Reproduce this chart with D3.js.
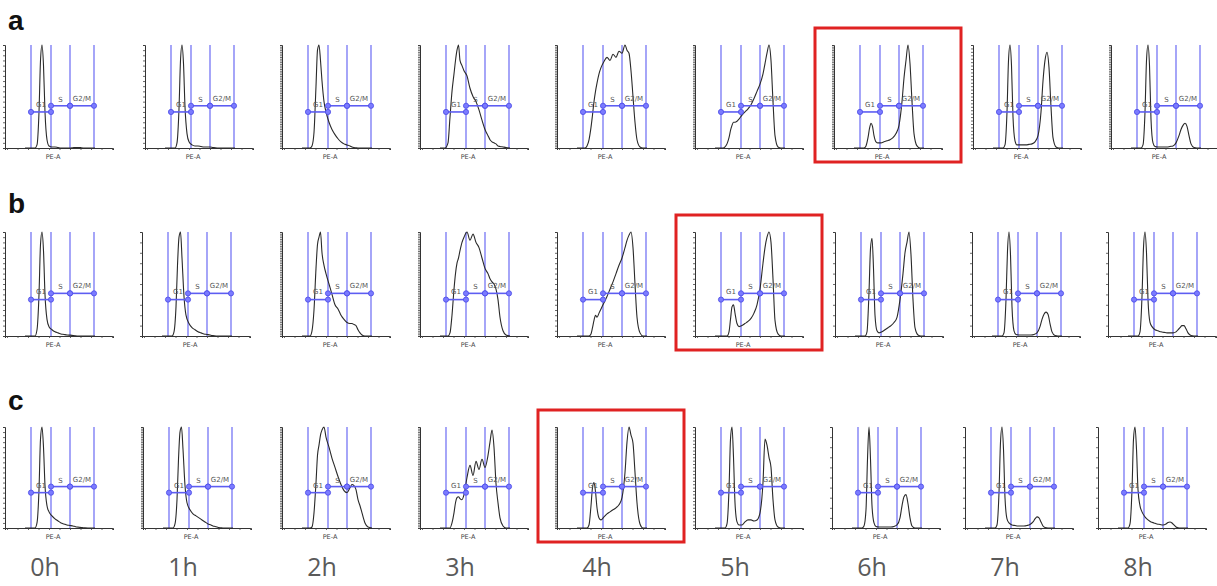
<!DOCTYPE html>
<html>
<head>
<meta charset="utf-8">
<script src="https://cdnjs.cloudflare.com/ajax/libs/d3/7.8.5/d3.min.js"></script>
<style>
  body { margin: 0; background: #fff; }
  svg { display: block; }
</style>
</head>
<body>
<div id="chart"></div>
<script>
// PE-A channel grid shared by every histogram
var peA = [200, 250, 280, 300, 320, 340, 355, 370, 385, 400, 420, 440, 470, 500, 530,
           560, 590, 620, 650, 680, 700, 720, 740, 760, 780, 800, 830, 860, 900];

// counts (% of panel max), one list per time point
var rowA = [
  [0,0,0,0,3,35,85,100,80,35,8,2,1,1,0.5,0,0,0,0,0.3,0.5,0.5,0.5,0.3,0,0,0,0,0],
  [0,0,0,0,5,38,85,100,82,40,14,6,3,2,2,1.5,1,1,1,0.5,0.3,0,0,0,0,0,0,0,0],
  [0,0,0,2,15,60,95,100,85,65,45,35,25,18,13,9,6,4,3,2,1,0.5,0.2,0,0,0,0,0,0],
  [0,0,5,30,55,72,85,95,100,85,80,75,70,58,50,45,37,27,18,12,8,6,5,4,2,1.5,1,0.5,0],
  [0,0,0,2,8,20,32,45,55,63,72,78,84,88,85,91,88,94,92,100,95,92,75,50,25,8,1,0,0],
  [0,0,0,1,4,10,17,22,25,25,26,28,32,35,38,42,48,55,62,72,82,92,100,85,45,12,1,0,0],
  [0,0,0,0,2,10,19,24,21,12,6,5,5,6,7,8,10,14,22,45,68,85,100,82,45,14,2,0,0],
  [0,0,0,0,3,35,85,100,80,30,7,3,3,3,3,3.5,4,6,12,35,65,85,93,78,40,10,1,0,0],
  [0,0,0,0,3,35,85,100,80,28,5,1.5,1,1,1,1,1.5,2,5,12,18,22,24,21,12,4,0.5,0,0]
];
var rowB = [
  [0,0,0,0,6,40,88,100,82,40,16,9,6,4,3,2,1.5,1,0.8,0.5,0.3,0,0,0,0,0,0,0,0],
  [0,0,0,0,4,28,68,95,100,75,38,20,12,8,6,4,3,2,1.5,1,0.5,0.3,0,0,0,0,0,0,0],
  [0,0,0,5,25,65,88,95,100,80,68,60,50,40,30,26,20,16,13,12,12,11,10,6,3,1,0,0,0],
  [0,0,0,3,20,45,60,70,75,82,90,95,100,92,98,90,85,75,65,60,55,52,50,45,35,18,5,1,0],
  [0,0,0,0,0,2,8,15,20,18,22,26,32,38,45,52,60,68,75,85,92,97,100,85,50,18,3,0,0],
  [0,0,0,0,0,4,16,28,30,22,12,9,10,12,14,17,22,30,45,70,85,95,100,90,55,15,2,0,0],
  [0,0,0,0,4,42,84,94,65,20,5,3,4,6,8,10,13,18,35,60,80,90,100,78,35,8,1,0,0],
  [0,0,0,0,3,35,82,100,78,28,5,1.5,1,1,1,1,1,1.5,3,9,16,21,23,21,12,4,0.5,0,0],
  [0,0,0,0,4,38,85,100,80,35,13,9,6,5,4,3.5,3,3,3,4,6,8,10,10,7,3,0.5,0,0]
];
var rowC = [
  [0,0,0,0,5,38,88,100,80,42,22,16,12,9,7,5,4,3,2.5,2,1.5,1,0.8,0.5,0.3,0.1,0,0,0],
  [0,0,0,0,4,28,68,95,100,78,42,25,18,14,12,10,8,6,4,3,2,1.5,1,0.5,0.2,0,0,0,0],
  [0,0,0,1,15,45,72,82,92,97,100,90,80,69,60,51,43,37,35,40,43,42,38,28,22,15,5,1,0],
  [0,0,0,0,5,15,25,30,31,29,28,33,50,62,52,66,58,68,60,72,85,97,80,44,25,10,2,0,0],
  [0,0,0,0,3,22,40,45,36,20,10,8,11,14,16,18,20,23,30,55,85,100,92,84,55,25,4,0,0],
  [0,0,0,0,4,38,88,100,70,25,6,3,3,6,8,8,7,8,15,45,88,82,70,60,28,8,1,0,0],
  [0,0,0,0,2,18,68,100,68,22,5,1.5,1,1,1,1,1,1.5,3,10,22,31,33,24,10,2,0,0,0],
  [0,0,0,0,3,35,85,100,78,30,9,5,3,2.5,2,2,2,2.5,3.5,6,9,11,10,6,2,0.5,0,0,0],
  [0,0,0,0,4,38,88,100,78,38,22,16,11,8,6,5,4,3.5,3,4,5.5,6,5,3,1,0.3,0,0,0]
];

var timeLabels = ["0h", "1h", "2h", "3h", "4h", "5h", "6h", "7h", "8h"];
var rowNames = ["a", "b", "c"];
var gates = [260, 460, 650, 890];          // PE-A gate borders G1 | S | G2/M
var gateNames = ["G1", "S", "G2/M"];
var boxedCol = [6, 5, 4];                   // highlighted time point per row

var width = 1217, height = 586;

var svg = d3.select("#chart").append("svg")
  .attr("width", width)
  .attr("height", height);

svg.append("rect").attr("width", width).attr("height", height).attr("fill", "#fff");

// panel layout for each row
var rows = [
  {data: rowA, top: 45, bottom: 148, letterY: 30,
   cols: [5, 145, 282, 420, 557, 695, 834, 973, 1111],
   yTicks: [16, 16, 60, 60, 60, 60, 60, 30, 60]},
  {data: rowB, top: 232, bottom: 336, letterY: 213,
   cols: [5, 142, 282, 420, 557, 695, 835, 972, 1108],
   yTicks: [16, 14, 60, 60, 20, 16, 14, 14, 14]},
  {data: rowC, top: 427, bottom: 528, letterY: 410,
   cols: [5, 143, 282, 420, 557, 695, 832, 965, 1098],
   yTicks: [16, 60, 60, 60, 60, 30, 14, 14, 14]}
];

var gateColour = "#5d5df2";
var panelW = 108;

rows.forEach(function(row, r) {
  svg.append("text")
    .attr("x", 8)
    .attr("y", row.letterY)
    .style("font-family", "Liberation Sans, Arial, sans-serif")
    .style("font-weight", "bold")
    .style("font-size", "28px")
    .attr("fill", "#111")
    .text(rowNames[r]);

  row.data.forEach(function(counts, c) {
    var x0 = row.cols[c];
    var g = svg.append("g").attr("transform", "translate(" + x0 + "," + row.top + ")");
    var h = row.bottom - row.top;

    var x = d3.scaleLinear().domain([0, 1080]).range([0, panelW]);
    var y = d3.scaleLinear().domain([0, 100]).range([h, 0]);

    // gates
    g.selectAll(".gate")
      .data(gates)
      .enter().append("line")
      .attr("x1", function(d) { return x(d); })
      .attr("x2", function(d) { return x(d); })
      .attr("y1", 0)
      .attr("y2", h)
      .attr("stroke", gateColour)
      .attr("stroke-opacity", 0.85)
      .attr("stroke-width", 1.3);

    // axes
    var yAxis = d3.axisLeft(y).ticks(row.yTicks[c]).tickSize(2).tickFormat("");
    if (row.yTicks[c] > 20) {
      yAxis.tickValues(d3.range(0, 101, 100 / row.yTicks[c]));
    }
    var gy = g.append("g").call(yAxis);
    var xAxis = d3.axisBottom(x).tickValues(d3.range(20, 1081, 105)).tickSize(2).tickFormat("");
    var gx = g.append("g").attr("transform", "translate(0," + h + ")").call(xAxis);
    [gy, gx].forEach(function(ax) {
      ax.select(".domain").attr("stroke", "#333").attr("stroke-width", 1);
      ax.selectAll(".tick line").attr("stroke", "#444").attr("stroke-width", 0.8);
    });

    // histogram
    var line = d3.line()
      .x(function(d, i) { return x(peA[i]); })
      .y(function(d) { return y(d); })
      .curve(d3.curveMonotoneX);

    g.append("path")
      .datum(counts)
      .attr("d", line)
      .attr("fill", "none")
      .attr("stroke", "#2a2a2a")
      .attr("stroke-width", 1.1);

    // gate bars and handles
    var bars = [
      {name: gateNames[0], a: gates[0], b: gates[1], lvl: 35, lab: 40},
      {name: gateNames[1], a: gates[1], b: gates[2], lvl: 41, lab: 45},
      {name: gateNames[2], a: gates[2], b: gates[3], lvl: 41, lab: 46}
    ];
    bars.forEach(function(b) {
      g.append("line")
        .attr("x1", x(b.a)).attr("x2", x(b.b))
        .attr("y1", y(b.lvl)).attr("y2", y(b.lvl))
        .attr("stroke", gateColour)
        .attr("stroke-width", 1.6);
      [b.a, b.b].forEach(function(v) {
        g.append("circle")
          .attr("cx", x(v)).attr("cy", y(b.lvl))
          .attr("r", 2.6)
          .attr("fill", "#7b7bff")
          .attr("stroke", "#4b4be6")
          .attr("stroke-width", 0.8);
      });
      g.append("text")
        .attr("x", x((b.a + b.b) / 2))
        .attr("y", y(b.lab))
        .attr("text-anchor", "middle")
        .style("font-family", "DejaVu Sans, sans-serif")
        .style("font-size", "7px")
        .attr("fill", "#555")
        .text(b.name);
    });

    g.append("text")
      .attr("x", 48)
      .attr("y", h + 11)
      .attr("text-anchor", "middle")
      .style("font-family", "DejaVu Sans, sans-serif")
      .style("font-size", "6.5px")
      .attr("fill", "#444")
      .text("PE-A");

    if (c === boxedCol[r]) {
      g.append("rect")
        .attr("x", -19)
        .attr("y", -17)
        .attr("width", 146)
        .attr("height", h + 31)
        .attr("fill", "none")
        .attr("stroke", "#e02222")
        .attr("stroke-width", 3);
    }

    if (r === 2) {
      svg.append("text")
        .attr("x", x0 + 40)
        .attr("y", 576)
        .attr("text-anchor", "middle")
        .style("font-family", "Open Sans, sans-serif")
        .style("font-size", "25px")
        .attr("fill", "#5a5a5a")
        .text(timeLabels[c]);
    }
  });
});
</script>
</body>
</html>
